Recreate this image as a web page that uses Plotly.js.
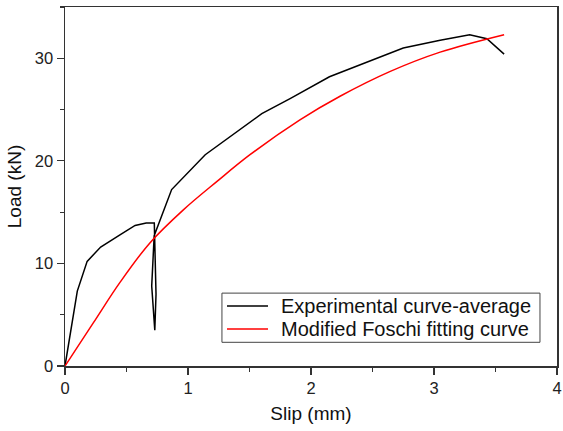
<!DOCTYPE html>
<html>
<head>
<meta charset="utf-8">
<script src="https://cdn.plot.ly/plotly-3.0.1.min.js"></script>
<style>html,body{margin:0;padding:0;background:#fff;}#chart{width:563px;height:431px;}</style>
</head>
<body>
<div id="chart"></div>
<script>
const expSlip = [0, 0.1, 0.18, 0.29, 0.45, 0.57, 0.66, 0.726, 0.74, 0.73, 0.705, 0.725, 0.867, 1.14, 1.6, 1.83, 2.15, 2.48, 2.75, 3.05, 3.29, 3.43, 3.57];
const expLoad = [0, 7.3, 10.2, 11.6, 12.8, 13.7, 13.95, 13.95, 7.0, 3.5, 7.8, 12.7, 17.2, 20.6, 24.6, 26.06, 28.2, 29.7, 31.0, 31.76, 32.3, 31.9, 30.4];
const fitSlip = [0, 0.23, 0.447, 0.69, 0.96, 1.236, 1.504, 1.91, 2.236, 2.64, 3.05, 3.57];
const fitLoad = [0, 4.2, 8.15, 12.0, 15.2, 18.0, 20.6, 24.0, 26.3, 28.7, 30.6, 32.3];
const seriesNames = ["Experimental curve-average", "Modified Foschi fitting curve"];
const seriesColors = ["#000000", "#ff0000"];
const xTicks = [0, 1, 2, 3, 4];
const yTicks = [0, 10, 20, 30];

const font = "Liberation Sans, Arial, sans-serif";
const data = [
  {x: expSlip, y: expLoad, mode: "lines", name: seriesNames[0], line: {color: seriesColors[0], width: 1.5}},
  {x: fitSlip, y: fitLoad, mode: "lines", name: seriesNames[1], line: {color: seriesColors[1], width: 1.5, shape: "spline", smoothing: 1}}
];
const axisCommon = {
  showgrid: false, zeroline: false, showline: true, linecolor: "#333", linewidth: 1.5, mirror: true,
  ticks: "outside", ticklen: 7, tickwidth: 1.2, tickcolor: "#333",
  tickfont: {family: font, size: 16.5, color: "#222"}
};

// custom legend (paper coordinates)
const lgX0 = 0.319, lgX1 = 0.9654, lgTop = 0.203, lgBot = 0.066;
const rowY = [0.167, 0.103];
const shapes = [{type: "rect", xref: "paper", yref: "paper", x0: lgX0, x1: lgX1, y0: lgBot, y1: lgTop,
  line: {color: "#444", width: 1}, fillcolor: "#fff", layer: "above"}];
const annotations = [];
seriesNames.forEach((nm, i) => {
  shapes.push({type: "line", xref: "paper", yref: "paper", x0: 0.3293, x1: 0.4126, y0: rowY[i], y1: rowY[i],
    line: {color: seriesColors[i], width: 1.5}, layer: "above"});
  annotations.push({xref: "paper", yref: "paper", x: 0.434, y: rowY[i], xanchor: "left", yanchor: "middle",
    text: nm, showarrow: false, font: {family: font, size: 20, color: "#111"}});
});

const layout = {
  width: 563, height: 431,
  margin: {l: 65, r: 6, t: 7, b: 65},
  paper_bgcolor: "#fff", plot_bgcolor: "#fff",
  font: {family: font},
  showlegend: false,
  shapes: shapes, annotations: annotations,
  xaxis: Object.assign({}, axisCommon, {
    range: [0, 4], tickvals: xTicks, ticktext: xTicks.map(String),
    minor: {tickvals: [0.5, 1.5, 2.5, 3.5], ticks: "outside", ticklen: 4, tickcolor: "#333", tickwidth: 1.2},
    title: {text: "Slip (mm)", font: {family: font, size: 19, color: "#111"}, standoff: 10}
  }),
  yaxis: Object.assign({}, axisCommon, {
    range: [0, 35], tickvals: yTicks, ticktext: yTicks.map(String),
    minor: {tickvals: [5, 15, 25, 35], ticks: "outside", ticklen: 4, tickcolor: "#333", tickwidth: 1.2},
    title: {text: "Load (kN)", font: {family: font, size: 19, color: "#111"}, standoff: 8}
  })
};
Plotly.newPlot("chart", data, layout, {staticPlot: true, displayModeBar: false});
</script>
</body>
</html>
